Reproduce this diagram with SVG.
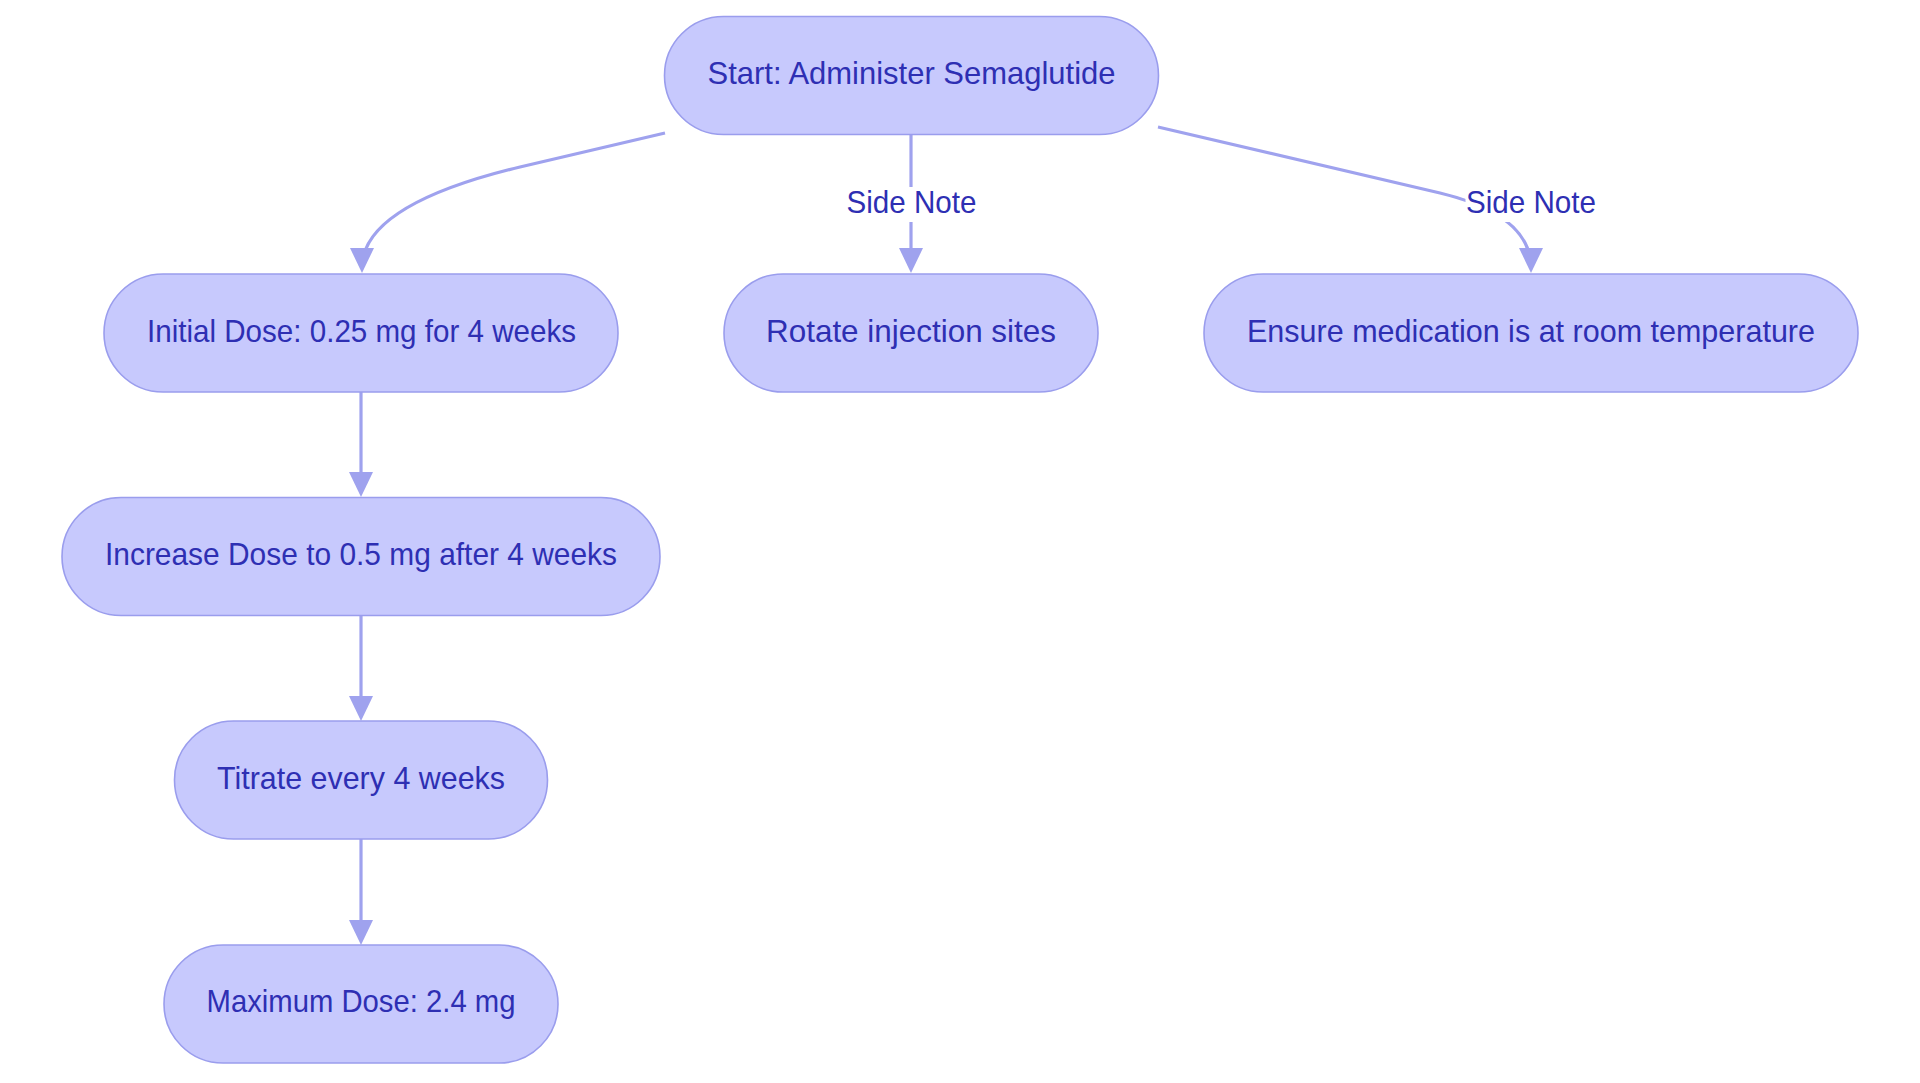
<svg xmlns="http://www.w3.org/2000/svg" width="1920" height="1083" viewBox="0 0 1920 1083">
<style>
.node rect{fill:#c7c9fd;stroke:#9a9ded;stroke-width:1.6}
.node text,.lbl text{font-family:"Liberation Sans",Arial,sans-serif;font-size:30.5px;fill:#2e2fb3;text-anchor:middle}
.edge{fill:none;stroke:#9fa2ee;stroke-width:3.2}
.lbl rect{fill:#ffffff}
</style>
<defs>
<marker id="arr" viewBox="0 0 25 24" refX="20" refY="12" markerWidth="25" markerHeight="24" markerUnits="userSpaceOnUse" orient="auto">
<path d="M0,0 L25,12 L0,24 z" fill="#9fa2ee"/>
</marker>
</defs>
<rect width="1920" height="1083" fill="#ffffff"/>
<g id="connectors">
<path class="edge" d="M665,133 L520,167 Q362,205 362,268" marker-end="url(#arr)"/>
<path class="edge" d="M911,135 L911,268" marker-end="url(#arr)"/>
<path class="edge" d="M1158,127 L1440,193 Q1531,215 1531,268" marker-end="url(#arr)"/>
<path class="edge" d="M361,392 L361,492" marker-end="url(#arr)"/>
<path class="edge" d="M361,616 L361,716" marker-end="url(#arr)"/>
<path class="edge" d="M361,839 L361,940" marker-end="url(#arr)"/>
<g class="lbl" id="label-rotate">
<rect x="846" y="187" width="131" height="35"/>
<text x="911.5" y="212.5" textLength="130" lengthAdjust="spacingAndGlyphs">Side Note</text>
</g>
<g class="lbl" id="label-ensure">
<rect x="1465.5" y="187" width="131" height="35"/>
<text x="1531" y="212.5" textLength="130" lengthAdjust="spacingAndGlyphs">Side Note</text>
</g>
</g>
<g class="node" id="start">
<rect x="664.5" y="16.5" width="494" height="118" rx="59"/>
<text x="911.5" y="83.5" textLength="408" lengthAdjust="spacingAndGlyphs">Start: Administer Semaglutide</text>
</g>
<g class="node" id="initial">
<rect x="104" y="274" width="514" height="118" rx="59"/>
<text x="361.5" y="341.5" textLength="429" lengthAdjust="spacingAndGlyphs">Initial Dose: 0.25 mg for 4 weeks</text>
</g>
<g class="node" id="rotate">
<rect x="724" y="274" width="374" height="118" rx="59"/>
<text x="911" y="341.5" textLength="290" lengthAdjust="spacingAndGlyphs">Rotate injection sites</text>
</g>
<g class="node" id="ensure">
<rect x="1204" y="274" width="654" height="118" rx="59"/>
<text x="1531" y="341.5" textLength="568" lengthAdjust="spacingAndGlyphs">Ensure medication is at room temperature</text>
</g>
<g class="node" id="increase">
<rect x="62" y="497.5" width="598" height="118" rx="59"/>
<text x="361" y="565" textLength="512" lengthAdjust="spacingAndGlyphs">Increase Dose to 0.5 mg after 4 weeks</text>
</g>
<g class="node" id="titrate">
<rect x="174.5" y="721" width="373" height="118" rx="59"/>
<text x="361" y="788.5" textLength="288" lengthAdjust="spacingAndGlyphs">Titrate every 4 weeks</text>
</g>
<g class="node" id="maximum">
<rect x="164" y="945" width="394" height="118" rx="59"/>
<text x="361" y="1012" textLength="309" lengthAdjust="spacingAndGlyphs">Maximum Dose: 2.4 mg</text>
</g>
</svg>
